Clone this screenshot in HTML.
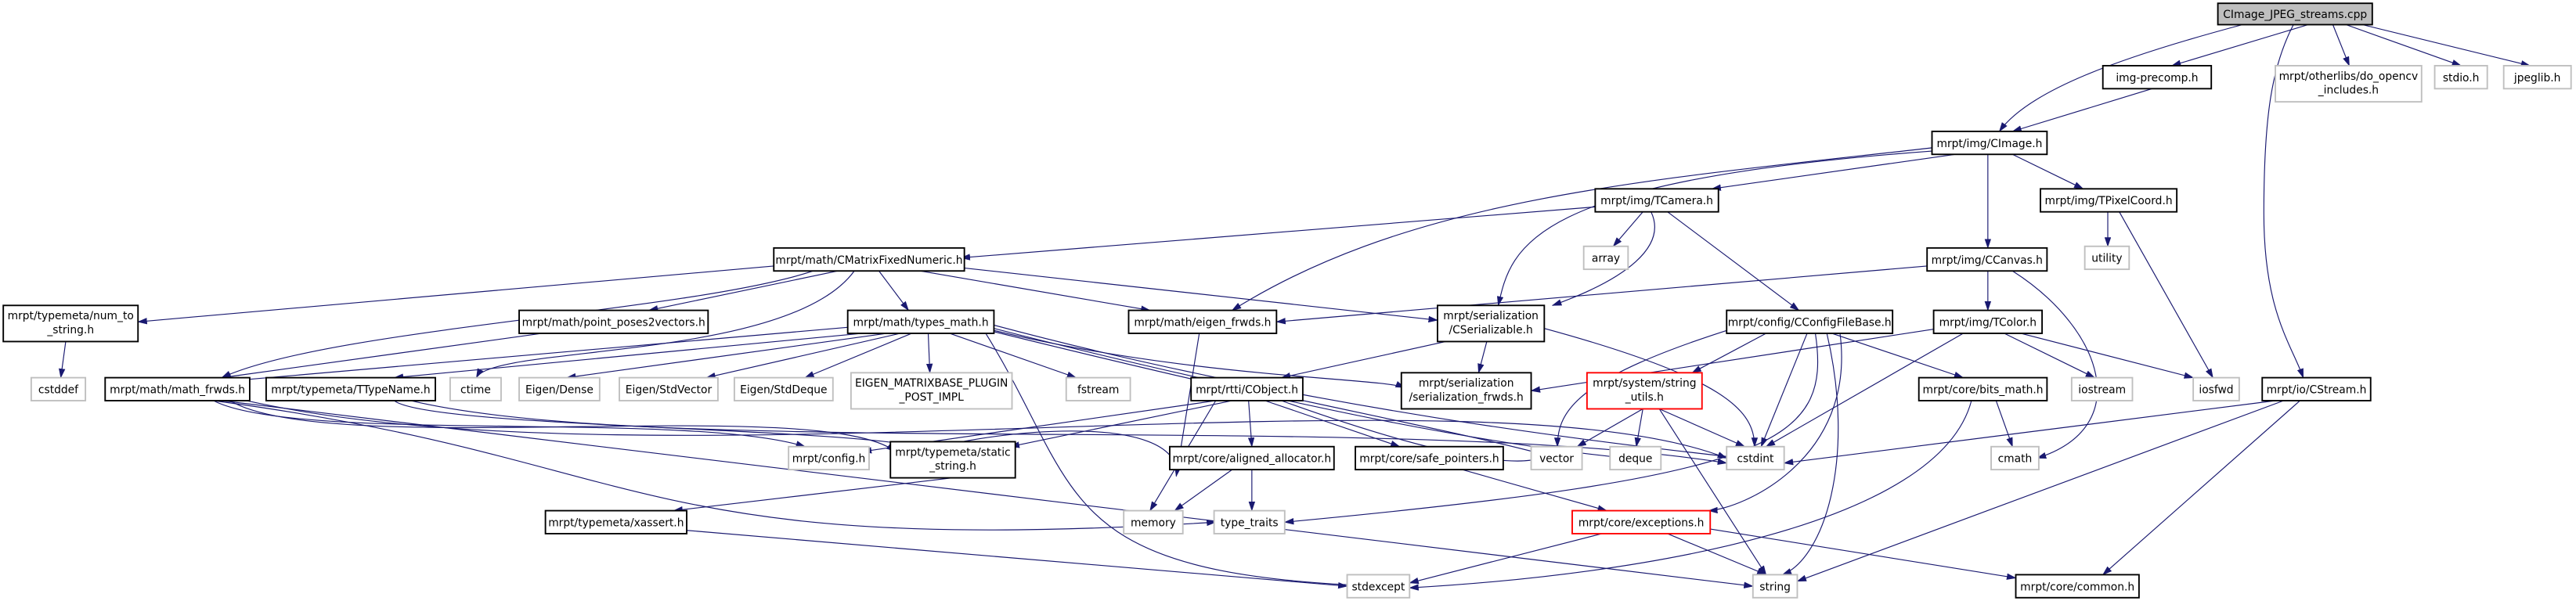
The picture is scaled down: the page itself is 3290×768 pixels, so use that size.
<!DOCTYPE html>
<html><head><meta charset="utf-8"><style>
html,body{margin:0;padding:0;background:#fff;}
svg{display:block}
text{font-family:"DejaVu Sans","Liberation Sans",sans-serif;font-size:6.6px;fill:#000;text-anchor:middle}
.n{fill:#fff;stroke:#000;stroke-width:0.9}
.g{fill:#fff;stroke:#bfbfbf;stroke-width:0.9}
.r{fill:#fff;stroke:#ff0000;stroke-width:0.9}
.e{stroke:#191970;stroke-width:0.55;fill:none;marker-end:url(#a)}
</style></head><body>
<svg width="3290" height="768" viewBox="0 0 1568 366" xmlns="http://www.w3.org/2000/svg">
<defs><marker id="a" markerWidth="6" markerHeight="4" refX="5.5" refY="2" orient="auto" markerUnits="userSpaceOnUse"><path d="M0,0 L6,2 L0,4 z" fill="#191970"/></marker></defs>
<g id="edges">
<path class="e" d="M1365,15 C1290,35 1235,55 1217,80"/>
<line class="e" x1="1405" y1="15" x2="1322" y2="40"/>
<line class="e" x1="1420" y1="15" x2="1430" y2="40"/>
<line class="e" x1="1428" y1="15" x2="1498" y2="40"/>
<line class="e" x1="1438" y1="15" x2="1540" y2="40"/>
<path class="e" d="M1396,15 C1383,40 1378,70 1378,130 C1378,190 1395,210 1402,230"/>
<line class="e" x1="1310" y1="54" x2="1225" y2="80"/>
<line class="e" x1="1190" y1="94" x2="1042" y2="115"/>
<line class="e" x1="1225" y1="94" x2="1268" y2="115"/>
<line class="e" x1="1210" y1="94" x2="1210" y2="151"/>
<path class="e" d="M1176,90 C1000,110 860,120 750,189"/>
<path class="e" d="M1176,92 C930,110 920,150 912,186"/>
<line class="e" x1="971" y1="126" x2="585" y2="157"/>
<line class="e" x1="1000" y1="129" x2="982" y2="150"/>
<path class="e" d="M1005,129 C1015,150 990,170 945,186"/>
<line class="e" x1="1015" y1="129" x2="1095" y2="189"/>
<line class="e" x1="1283" y1="129" x2="1283" y2="150"/>
<line class="e" x1="1290" y1="129" x2="1347" y2="230"/>
<line class="e" x1="471" y1="162" x2="84" y2="196"/>
<line class="e" x1="510" y1="165" x2="395" y2="189"/>
<line class="e" x1="535" y1="165" x2="553" y2="189"/>
<line class="e" x1="560" y1="165" x2="700" y2="189"/>
<line class="e" x1="585" y1="163" x2="875" y2="195"/>
<path class="e" d="M495,165 C420,190 200,200 135,230"/>
<path class="e" d="M520,165 C480,220 300,210 290,230"/>
<line class="e" x1="1173" y1="162" x2="777" y2="196"/>
<line class="e" x1="1210" y1="165" x2="1210" y2="189"/>
<path class="e" d="M1225,165 C1280,200 1300,260 1240,279"/>
<line class="e" x1="40" y1="208" x2="37" y2="230"/>
<line class="e" x1="330" y1="203" x2="135" y2="230"/>
<line class="e" x1="520" y1="199" x2="140" y2="232"/>
<line class="e" x1="525" y1="203" x2="240" y2="230"/>
<line class="e" x1="540" y1="203" x2="345" y2="230"/>
<line class="e" x1="548" y1="203" x2="430" y2="230"/>
<line class="e" x1="555" y1="203" x2="490" y2="230"/>
<line class="e" x1="565" y1="203" x2="566" y2="227"/>
<line class="e" x1="578" y1="203" x2="655" y2="230"/>
<path class="e" d="M600,200 C720,230 840,230 855,236"/>
<path class="e" d="M605,200 C760,240 880,260 948,279"/>
<path class="e" d="M605,198 C800,250 980,270 1060,279"/>
<path class="e" d="M600,203 C660,300 640,350 840,357"/>
<path class="e" d="M605,202 C800,250 900,270 990,279"/>
<line class="e" x1="730" y1="203" x2="716" y2="290"/>
<path class="e" d="M716,290 C720,250 600,260 542,280"/>
<line class="e" x1="880" y1="208" x2="780" y2="230"/>
<line class="e" x1="905" y1="208" x2="900" y2="227"/>
<path class="e" d="M940,200 C1050,230 1068,250 1068,272"/>
<line class="e" x1="1075" y1="203" x2="1030" y2="227"/>
<line class="e" x1="1115" y1="203" x2="1195" y2="230"/>
<path class="e" d="M1055,200 C960,230 948,250 948,272"/>
<line class="e" x1="1100" y1="203" x2="1072" y2="272"/>
<path class="e" d="M1112,203 C1130,280 1110,340 1085,350"/>
<path class="e" d="M1105,203 C1115,270 1080,290 782,318"/>
<path class="e" d="M1120,203 C1130,280 1060,310 1040,311"/>
<line class="e" x1="1180" y1="200" x2="932" y2="238"/>
<line class="e" x1="1220" y1="203" x2="1275" y2="230"/>
<line class="e" x1="1230" y1="203" x2="1335" y2="230"/>
<line class="e" x1="1195" y1="203" x2="1075" y2="272"/>
<path class="e" d="M130,244 C180,270 420,250 490,272"/>
<path class="e" d="M140,244 C200,280 500,240 545,275"/>
<path class="e" d="M130,244 C400,280 380,340 740,318"/>
<line class="e" x1="135" y1="244" x2="1067" y2="357"/>
<path class="e" d="M150,244 C400,300 900,220 1051,279"/>
<path class="e" d="M240,244 C260,260 500,260 560,272"/>
<path class="e" d="M250,244 C400,280 850,250 1051,282"/>
<line class="e" x1="740" y1="244" x2="525" y2="275"/>
<line class="e" x1="750" y1="244" x2="615" y2="272"/>
<line class="e" x1="760" y1="244" x2="762" y2="272"/>
<line class="e" x1="770" y1="244" x2="852" y2="272"/>
<line class="e" x1="740" y1="244" x2="700" y2="311"/>
<path class="e" d="M780,244 C880,280 940,290 946,272"/>
<line class="e" x1="1000" y1="249" x2="960" y2="272"/>
<line class="e" x1="1000" y1="249" x2="996" y2="272"/>
<line class="e" x1="1010" y1="249" x2="1062" y2="272"/>
<line class="e" x1="1010" y1="249" x2="1075" y2="350"/>
<line class="e" x1="1215" y1="244" x2="1225" y2="272"/>
<path class="e" d="M1200,244 C1180,320 1000,350 858,358"/>
<line class="e" x1="1385" y1="244" x2="1086" y2="282"/>
<line class="e" x1="1390" y1="244" x2="1094" y2="354"/>
<line class="e" x1="1400" y1="244" x2="1280" y2="350"/>
<line class="e" x1="580" y1="291" x2="410" y2="311"/>
<line class="e" x1="750" y1="286" x2="715" y2="311"/>
<line class="e" x1="762" y1="286" x2="762" y2="311"/>
<line class="e" x1="890" y1="286" x2="978" y2="311"/>
<line class="e" x1="418" y1="323" x2="820" y2="357"/>
<line class="e" x1="975" y1="325" x2="858" y2="355"/>
<line class="e" x1="1015" y1="325" x2="1075" y2="350"/>
<line class="e" x1="1040" y1="322" x2="1227" y2="352"/>
</g>
<g id="nodes">
<rect x="1350" y="2" width="94" height="13" fill="#bfbfbf" stroke="#000" stroke-width="0.9"/><text x="1397" y="11">CImage_JPEG_streams.cpp</text>
<rect class="n" x="1280" y="40" width="66" height="14"/><text x="1313" y="49.5">img-precomp.h</text>
<rect class="g" x="1385" y="40" width="89" height="22"/><text x="1429.5" y="48.5">mrpt/otherlibs/do_opencv</text><text x="1429.5" y="57">_includes.h</text>
<rect class="g" x="1482" y="40" width="32" height="14"/><text x="1498" y="49.5">stdio.h</text>
<rect class="g" x="1524" y="40" width="41" height="14"/><text x="1544.5" y="49.5">jpeglib.h</text>
<rect class="n" x="1176" y="80" width="70" height="14"/><text x="1211" y="89.5">mrpt/img/CImage.h</text>
<rect class="n" x="971" y="115" width="75" height="14"/><text x="1008.5" y="124.5">mrpt/img/TCamera.h</text>
<rect class="n" x="1242" y="115" width="83" height="14"/><text x="1283.5" y="124.5">mrpt/img/TPixelCoord.h</text>
<rect class="g" x="964" y="150" width="27" height="14"/><text x="977.5" y="159.5">array</text>
<rect class="g" x="1269" y="150" width="27" height="14"/><text x="1282.5" y="159.5">utility</text>
<rect class="n" x="471" y="151" width="116" height="14"/><text x="529" y="160.5">mrpt/math/CMatrixFixedNumeric.h</text>
<rect class="n" x="1173" y="151" width="73" height="14"/><text x="1209.5" y="160.5">mrpt/img/CCanvas.h</text>
<rect class="n" x="2" y="186" width="82" height="22"/><text x="43" y="194.5">mrpt/typemeta/num_to</text><text x="43" y="203">_string.h</text>
<rect class="n" x="316" y="189" width="115" height="14"/><text x="373.5" y="198.5">mrpt/math/point_poses2vectors.h</text>
<rect class="n" x="516" y="189" width="89" height="14"/><text x="560.5" y="198.5">mrpt/math/types_math.h</text>
<rect class="n" x="687" y="189" width="90" height="14"/><text x="732" y="198.5">mrpt/math/eigen_frwds.h</text>
<rect class="n" x="875" y="186" width="65" height="22"/><text x="907.5" y="194.5">mrpt/serialization</text><text x="907.5" y="203">/CSerializable.h</text>
<rect class="n" x="1051" y="189" width="101" height="14"/><text x="1101.5" y="198.5">mrpt/config/CConfigFileBase.h</text>
<rect class="n" x="1177" y="189" width="66" height="14"/><text x="1210" y="198.5">mrpt/img/TColor.h</text>
<rect class="g" x="19" y="230" width="33" height="14"/><text x="35.5" y="239.5">cstddef</text>
<rect class="n" x="64" y="230" width="88" height="14"/><text x="108" y="239.5">mrpt/math/math_frwds.h</text>
<rect class="n" x="162" y="230" width="103" height="14"/><text x="213.5" y="239.5">mrpt/typemeta/TTypeName.h</text>
<rect class="g" x="274" y="230" width="31" height="14"/><text x="289.5" y="239.5">ctime</text>
<rect class="g" x="316" y="230" width="49" height="14"/><text x="340.5" y="239.5">Eigen/Dense</text>
<rect class="g" x="377" y="230" width="60" height="14"/><text x="407" y="239.5">Eigen/StdVector</text>
<rect class="g" x="447" y="230" width="60" height="14"/><text x="477" y="239.5">Eigen/StdDeque</text>
<rect class="g" x="518" y="227" width="98" height="22"/><text x="567" y="235.5">EIGEN_MATRIXBASE_PLUGIN</text><text x="567" y="244">_POST_IMPL</text>
<rect class="g" x="649" y="230" width="39" height="14"/><text x="668.5" y="239.5">fstream</text>
<rect class="n" x="725" y="230" width="68" height="14"/><text x="759" y="239.5">mrpt/rtti/CObject.h</text>
<rect class="n" x="853" y="227" width="79" height="22"/><text x="892.5" y="235.5">mrpt/serialization</text><text x="892.5" y="244">/serialization_frwds.h</text>
<rect class="r" x="966" y="227" width="70" height="22"/><text x="1001" y="235.5">mrpt/system/string</text><text x="1001" y="244">_utils.h</text>
<rect class="n" x="1168" y="230" width="78" height="14"/><text x="1207" y="239.5">mrpt/core/bits_math.h</text>
<rect class="g" x="1261" y="230" width="37" height="14"/><text x="1279.5" y="239.5">iostream</text>
<rect class="g" x="1335" y="230" width="28" height="14"/><text x="1349" y="239.5">iosfwd</text>
<rect class="n" x="1377" y="230" width="66" height="14"/><text x="1410" y="239.5">mrpt/io/CStream.h</text>
<rect class="g" x="480" y="272" width="49" height="14"/><text x="504.5" y="281.5">mrpt/config.h</text>
<rect class="n" x="542" y="269" width="76" height="22"/><text x="580" y="277.5">mrpt/typemeta/static</text><text x="580" y="286">_string.h</text>
<rect class="n" x="712" y="272" width="100" height="14"/><text x="762" y="281.5">mrpt/core/aligned_allocator.h</text>
<rect class="n" x="825" y="272" width="90" height="14"/><text x="870" y="281.5">mrpt/core/safe_pointers.h</text>
<rect class="g" x="932" y="272" width="31" height="14"/><text x="947.5" y="281.5">vector</text>
<rect class="g" x="980" y="272" width="31" height="14"/><text x="995.5" y="281.5">deque</text>
<rect class="g" x="1051" y="272" width="35" height="14"/><text x="1068.5" y="281.5">cstdint</text>
<rect class="g" x="1212" y="272" width="29" height="14"/><text x="1226.5" y="281.5">cmath</text>
<rect class="n" x="332" y="311" width="86" height="14"/><text x="375" y="320.5">mrpt/typemeta/xassert.h</text>
<rect class="g" x="684" y="311" width="36" height="14"/><text x="702" y="320.5">memory</text>
<rect class="g" x="739" y="311" width="43" height="14"/><text x="760.5" y="320.5">type_traits</text>
<rect class="r" x="957" y="311" width="84" height="14"/><text x="999" y="320.5">mrpt/core/exceptions.h</text>
<rect class="g" x="820" y="350" width="38" height="14"/><text x="839" y="359.5">stdexcept</text>
<rect class="g" x="1067" y="350" width="27" height="14"/><text x="1080.5" y="359.5">string</text>
<rect class="n" x="1227" y="350" width="75" height="14"/><text x="1264.5" y="359.5">mrpt/core/common.h</text>
</g>
</svg>
</body></html>
